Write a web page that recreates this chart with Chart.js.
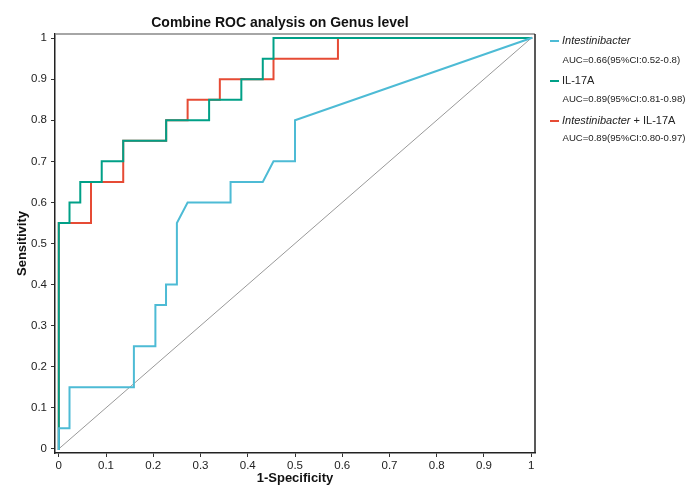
<!DOCTYPE html>
<html>
<head>
<meta charset="utf-8">
<script src="https://cdn.jsdelivr.net/npm/chart.js@4"></script>
<style>
    html, body { margin: 0; padding: 0; background: #fff; }
    #wrap { position: relative; width: 690px; height: 488px; font-family: "Liberation Sans", Arial, sans-serif; }
    #roc { position: absolute; left: 0; top: 0; }
    .title { position: absolute; left: 0; width: 560px; top: 13.7px; line-height: 16px; text-align: center; font-weight: bold; font-size: 14px; color: #111; }
    .leg { position: absolute; left: 550px; font-size: 11px; line-height: 12px; color: #222; white-space: nowrap; }
    .leg.auc { left: 562.5px; font-size: 9.6px; }
    .leg .sw { display: inline-block; width: 9px; height: 2px; vertical-align: middle; margin-right: 3px; }
    .leg i { font-style: italic; }
</style>
</head>
<body>
<div id="wrap">
    <canvas id="roc" width="690" height="488"></canvas>
    <div class="title">Combine ROC analysis on Genus level</div>
    <div id="legend"></div>
</div>
<script>
// ROC curves (1-specificity, sensitivity)
const seriesNames = ['Intestinibacter', 'IL-17A', 'Intestinibacter + IL-17A'];
const aucLabels = ['AUC=0.66(95%CI:0.52-0.8)', 'AUC=0.89(95%CI:0.81-0.98)', 'AUC=0.89(95%CI:0.80-0.97)'];
const seriesColors = ['#4DBBD5', '#00A087', '#E64B35'];

const intestFpr = [0, 0, 0.0227, 0.0227, 0.159, 0.159, 0.2045, 0.2045, 0.227, 0.227, 0.25, 0.25, 0.2727, 0.3636, 0.3636, 0.4318, 0.4545, 0.5, 0.5, 1];
const intestTpr = [0, 0.05, 0.05, 0.15, 0.15, 0.25, 0.25, 0.35, 0.35, 0.4, 0.4, 0.55, 0.6, 0.6, 0.65, 0.65, 0.7, 0.7, 0.8, 1];

const il17Fpr = [0, 0, 0.0227, 0.0227, 0.0455, 0.0455, 0.0909, 0.0909, 0.1364, 0.1364, 0.2273, 0.2273, 0.3182, 0.3182, 0.3864, 0.3864, 0.4318, 0.4318, 0.4545, 0.4545, 1];
const il17Tpr = [0, 0.55, 0.55, 0.6, 0.6, 0.65, 0.65, 0.7, 0.7, 0.75, 0.75, 0.8, 0.8, 0.85, 0.85, 0.9, 0.9, 0.95, 0.95, 1, 1];

const comboFpr = [0, 0, 0.0682, 0.0682, 0.1364, 0.1364, 0.2273, 0.2273, 0.2727, 0.2727, 0.3409, 0.3409, 0.4545, 0.4545, 0.5909, 0.5909, 1];
const comboTpr = [0, 0.55, 0.55, 0.65, 0.65, 0.75, 0.75, 0.8, 0.8, 0.85, 0.85, 0.9, 0.9, 0.95, 0.95, 1, 1];

const refLine = [0, 1];
const tickValues = [0, 0.1, 0.2, 0.3, 0.4, 0.5, 0.6, 0.7, 0.8, 0.9, 1];

const toPoints = (xs, ys) => xs.map((x, i) => ({x: x, y: ys[i]}));

// legend as html text
const legend = document.getElementById('legend');
seriesNames.forEach((name, i) => {
    const row = document.createElement('div');
    row.className = 'leg';
    row.style.top = (34.4 + i * 40) + 'px';
    let label = name.replace('Intestinibacter', '<i>Intestinibacter</i>');
    row.innerHTML = `<span class="sw" style="background:${seriesColors[i]}"></span>${label}`;
    legend.appendChild(row);

    const auc = document.createElement('div');
    auc.className = 'leg auc';
    auc.style.top = (54.4 + i * 39) + 'px';
    auc.innerText = aucLabels[i];
    legend.appendChild(auc);
});

// top and right frame lines
const framePlugin = {
    id: 'frame',
    afterDraw(chart) {
        const {ctx, chartArea: a} = chart;
        ctx.save();
        ctx.lineWidth = 1.5;
        ctx.strokeStyle = '#888';
        ctx.beginPath();
        ctx.moveTo(a.left, a.top);
        ctx.lineTo(a.right, a.top);
        ctx.stroke();
        ctx.strokeStyle = '#222';
        ctx.beginPath();
        ctx.moveTo(a.right, a.top);
        ctx.lineTo(a.right, a.bottom);
        ctx.stroke();
        ctx.restore();
    }
};

const tickFont = {family: '"Liberation Sans", Arial, sans-serif', size: 11.5};
const titleFont = {family: '"Liberation Sans", Arial, sans-serif', size: 13, weight: 'bold'};
const fmt = (v) => String(Math.round(v * 10) / 10);

new Chart(document.getElementById('roc'), {
    type: 'line',
    data: {
        datasets: [
            {label: seriesNames[0], data: toPoints(intestFpr, intestTpr), borderColor: seriesColors[0], borderWidth: 2},
            {label: seriesNames[1], data: toPoints(il17Fpr, il17Tpr), borderColor: seriesColors[1], borderWidth: 2},
            {label: seriesNames[2], data: toPoints(comboFpr, comboTpr), borderColor: seriesColors[2], borderWidth: 2},
            {label: 'ref', data: toPoints(refLine, refLine), borderColor: '#999999', borderWidth: 1}
        ]
    },
    options: {
        responsive: false,
        animation: false,
        devicePixelRatio: 1,
        elements: {
            point: {radius: 0},
            line: {tension: 0, fill: false, borderCapStyle: 'square'}
        },
        layout: {
            padding: {top: 34, right: 155, left: 0, bottom: 0}
        },
        plugins: {
            legend: {display: false},
            tooltip: {enabled: false}
        },
        scales: {
            x: {
                type: 'linear',
                min: -0.008,
                max: 1.008,
                afterBuildTicks: (s) => { s.ticks = tickValues.map(v => ({value: v})); },
                afterFit: (s) => { s.height = 35; },
                ticks: {color: '#222', font: tickFont, padding: 2, maxRotation: 0, autoSkip: false, callback: fmt},
                grid: {drawOnChartArea: false, tickLength: 4, color: '#333'},
                border: {display: true, color: '#222', width: 1.5},
                title: {display: true, text: '1-Specificity', color: '#111', font: titleFont, padding: {top: 0, bottom: 2}}
            },
            y: {
                type: 'linear',
                min: -0.01,
                max: 1.01,
                afterBuildTicks: (s) => { s.ticks = tickValues.map(v => ({value: v})); },
                afterFit: (s) => { s.width = 55; },
                ticks: {color: '#222', font: tickFont, padding: 4, autoSkip: false, callback: fmt},
                grid: {drawOnChartArea: false, tickLength: 4, color: '#333'},
                border: {display: true, color: '#222', width: 1.5},
                title: {display: true, text: 'Sensitivity', color: '#111', font: titleFont, padding: {top: 15, bottom: 0}}
            }
        }
    },
    plugins: [framePlugin]
});
</script>
</body>
</html>
